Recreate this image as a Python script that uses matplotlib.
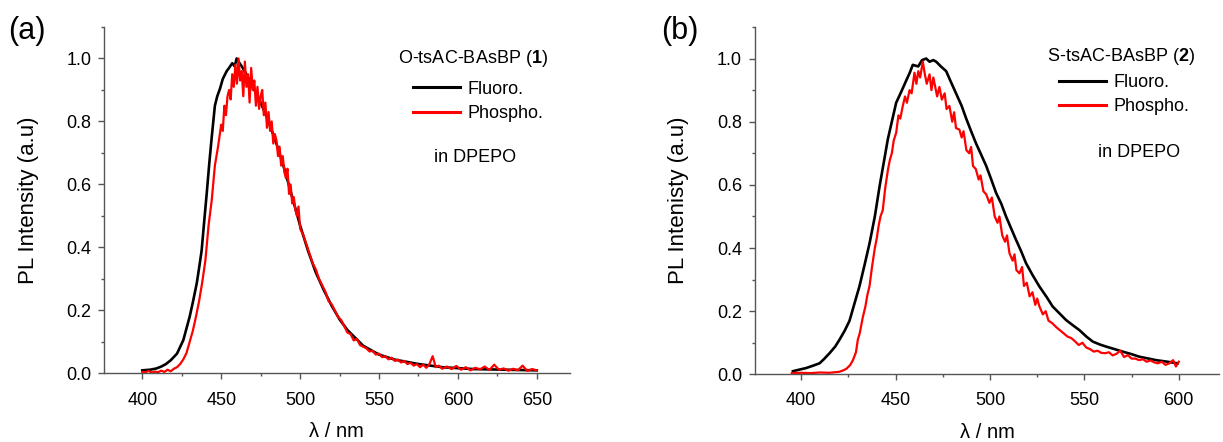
import matplotlib
matplotlib.use("Agg")
import matplotlib.pyplot as plt
from matplotlib.ticker import MultipleLocator

plt.rcParams['font.family'] = ['Liberation Sans', 'DejaVu Sans']
plt.rcParams['mathtext.fontset'] = 'custom'
plt.rcParams['mathtext.rm'] = 'Liberation Sans'
plt.rcParams['mathtext.bf'] = 'Liberation Sans:bold'

# ---------------- Panel (a): O-tsAC-BAsBP (1) ----------------
a_fluo_x = [400, 405, 409, 412, 415, 418, 422, 426, 430, 432, 434.5, 436, 437.6, 439, 440.8, 442.5,
            444, 446, 447.5, 449.3, 451, 453.5, 455, 457, 458.5, 459.8, 461, 463, 466, 470, 475,
            480, 485, 490, 495, 500, 505, 510, 515, 520, 525, 530, 540, 550, 560, 575, 590, 610,
            630, 650]
a_fluo_y = [0.010, 0.012, 0.016, 0.022, 0.030, 0.042, 0.063, 0.106, 0.180, 0.225, 0.286, 0.335,
            0.390, 0.470, 0.570, 0.670, 0.750, 0.850, 0.880, 0.905, 0.935, 0.960, 0.970, 0.985,
            0.975, 1.000, 0.990, 0.975, 0.950, 0.910, 0.860, 0.800, 0.730, 0.650, 0.560, 0.470,
            0.390, 0.320, 0.265, 0.215, 0.172, 0.138, 0.088, 0.060, 0.044, 0.030, 0.020, 0.014,
            0.012, 0.010]

a_phos_x = [400, 402, 404, 406, 408, 410, 412, 414, 416, 418, 420, 422, 424, 426, 428, 430, 432,
            434, 436, 438, 440, 442, 444, 446, 448, 450, 451, 452, 453, 454, 455, 456, 457, 458,
            459, 460, 461, 462, 463, 464, 465, 466, 467, 468, 469, 470, 471, 472, 473, 474, 475,
            476, 477, 478, 479, 480, 481, 482, 483, 484, 485, 486, 487, 488, 489, 490, 491, 492,
            493, 494, 495, 496, 497, 498, 499, 500, 502, 504, 506, 508, 510, 512, 514, 516, 518,
            520, 522, 524, 526, 528, 530, 532, 534, 536, 538, 540, 542, 544, 546, 548, 550, 552,
            554, 556, 558, 560, 562, 564, 566, 568, 570, 572, 574, 576, 578, 580, 582, 584, 586,
            588, 590, 593, 596, 599, 602, 605, 608, 611, 614, 617, 620, 623, 626, 629, 632, 635,
            638, 641, 644, 647, 650]
a_phos_y = [0.005, 0.004, 0.008, 0.003, 0.006, 0.004, 0.009, 0.005, 0.012, 0.007, 0.015, 0.020,
            0.030, 0.045, 0.065, 0.100, 0.135, 0.180, 0.230, 0.290, 0.360, 0.470, 0.550, 0.660,
            0.720, 0.790, 0.770, 0.850, 0.820, 0.880, 0.900, 0.870, 0.950, 0.910, 0.980, 0.920,
            1.000, 0.930, 0.960, 0.880, 0.990, 0.910, 0.950, 0.860, 0.970, 0.900, 0.930, 0.850,
            0.910, 0.840, 0.880, 0.900, 0.820, 0.860, 0.780, 0.830, 0.770, 0.800, 0.730, 0.760,
            0.740, 0.690, 0.720, 0.660, 0.690, 0.640, 0.620, 0.650, 0.570, 0.600, 0.540, 0.560,
            0.520, 0.500, 0.530, 0.460, 0.440, 0.410, 0.380, 0.350, 0.330, 0.300, 0.280, 0.260,
            0.230, 0.220, 0.200, 0.180, 0.170, 0.150, 0.130, 0.125, 0.105, 0.110, 0.090, 0.085,
            0.080, 0.070, 0.072, 0.060, 0.063, 0.052, 0.055, 0.045, 0.050, 0.040, 0.044, 0.035,
            0.040, 0.030, 0.034, 0.025, 0.030, 0.020, 0.028, 0.018, 0.030, 0.055, 0.020, 0.025,
            0.015, 0.022, 0.014, 0.024, 0.012, 0.020, 0.010, 0.018, 0.013, 0.022, 0.011, 0.028,
            0.012, 0.016, 0.009, 0.015, 0.010, 0.025, 0.008, 0.014, 0.010]

# ---------------- Panel (b): S-tsAC-BAsBP (2) ----------------
b_fluo_x = [395.6, 399, 402.6, 406, 409.7, 412, 415, 418, 420.3, 423, 425.6, 428, 430.9, 433.5,
            436.2, 439, 441.5, 444, 445.9, 448, 450.3, 453, 455.6, 457.5, 459.1, 462, 464, 466.2,
            468, 470, 471.5, 474, 476.8, 479, 482, 485, 487.4, 490, 492.7, 495, 498, 500.5, 503.2,
            506, 508.5, 511, 513.8, 516.5, 519.1, 522.5, 526.2, 530, 533.2, 537, 540.3, 544, 547.4,
            551, 554.4, 558, 561.5, 566, 570.3, 575, 579.1, 584, 588, 594, 599.4]
b_fluo_y = [0.010, 0.015, 0.020, 0.027, 0.035, 0.048, 0.067, 0.088, 0.110, 0.138, 0.170, 0.220,
            0.280, 0.345, 0.415, 0.500, 0.595, 0.680, 0.745, 0.800, 0.860, 0.895, 0.930, 0.955,
            0.980, 0.975, 0.995, 1.000, 0.990, 0.995, 0.990, 0.975, 0.960, 0.930, 0.890, 0.850,
            0.810, 0.770, 0.730, 0.700, 0.660, 0.620, 0.575, 0.540, 0.500, 0.465, 0.426, 0.390,
            0.352, 0.315, 0.278, 0.245, 0.215, 0.192, 0.172, 0.155, 0.140, 0.120, 0.104, 0.095,
            0.088, 0.080, 0.072, 0.064, 0.056, 0.050, 0.045, 0.040, 0.035]

b_phos_x = [395, 400, 405, 410, 415, 420, 422, 424, 426, 427.4, 429, 430, 431, 432.6, 434, 435,
            436.2, 437.5, 439, 440, 441, 442, 443.2, 444.5, 446, 447, 448, 449, 450.3, 451.5, 452.5,
            453.8, 455, 456, 457.4, 458.5, 460, 461, 462, 463, 464.4, 465.5, 466.5, 468, 469, 470,
            471, 472, 473.2, 474.5, 476, 477, 478.5, 480, 481, 482, 483.8, 485, 486, 487.5, 489,
            490, 491, 492.5, 494, 495, 496.5, 498, 499.7, 501, 502.5, 504, 505, 506.5, 508, 509,
            510.3, 512, 513, 514, 515.6, 517, 518, 519.5, 521, 522.5, 524, 525, 526.2, 528, 529.5,
            531, 533, 535, 537, 539, 541, 543, 545, 547, 549, 551, 553, 555, 557, 559, 561, 563,
            565, 567, 569, 571, 573, 575, 577, 579, 581, 583, 585, 587, 589, 591, 593, 595, 597,
            598.5, 600]
b_phos_y = [0.004, 0.005, 0.004, 0.006, 0.005, 0.008, 0.012, 0.018, 0.030, 0.045, 0.070, 0.110,
            0.130, 0.180, 0.215, 0.250, 0.280, 0.340, 0.400, 0.430, 0.470, 0.500, 0.520, 0.590,
            0.650, 0.680, 0.700, 0.740, 0.765, 0.820, 0.810, 0.850, 0.880, 0.860, 0.900, 0.890,
            0.955, 0.920, 0.960, 0.940, 0.990, 0.950, 0.920, 0.950, 0.900, 0.940, 0.910, 0.880,
            0.910, 0.870, 0.890, 0.840, 0.850, 0.800, 0.830, 0.780, 0.775, 0.750, 0.770, 0.710,
            0.700, 0.720, 0.660, 0.650, 0.617, 0.630, 0.580, 0.570, 0.543, 0.560, 0.500, 0.480,
            0.500, 0.440, 0.420, 0.440, 0.384, 0.360, 0.380, 0.330, 0.320, 0.340, 0.280, 0.290,
            0.247, 0.260, 0.220, 0.240, 0.215, 0.190, 0.200, 0.170, 0.162, 0.150, 0.140, 0.130,
            0.120, 0.115, 0.105, 0.093, 0.100, 0.085, 0.080, 0.072, 0.075, 0.068, 0.067, 0.070,
            0.060, 0.065, 0.075, 0.055, 0.061, 0.050, 0.050, 0.045, 0.048, 0.040, 0.044,
            0.038, 0.035, 0.040, 0.030, 0.035, 0.045, 0.025, 0.040]

fig = plt.figure(figsize=(12.23, 4.42), dpi=100)
ax1 = fig.add_axes([0.085, 0.155, 0.381, 0.784])
ax2 = fig.add_axes([0.617, 0.153, 0.380, 0.786])

panels = [
    (ax1, a_fluo_x, a_fluo_y, a_phos_x, a_phos_y, (375.7, 671), 'PL Intensity (a.u)',
     r'O-tsAC-BAsBP ($\mathbf{1}$)', (0.663, 0.845), (0.792, 0.91), (0.796, 0.624)),
    (ax2, b_fluo_x, b_fluo_y, b_phos_x, b_phos_y, (375.3, 621.5), 'PL Intenisty (a.u)',
     r'S-tsAC-BAsBP ($\mathbf{2}$)', (0.656, 0.865), (0.789, 0.914), (0.828, 0.64)),
]

for ax, fx, fy, px, py, xlim, ylab, title, legpos, tpos, dpos in panels:
    ax.plot(fx, fy, color='black', lw=1.9, label='Fluoro.')
    ax.plot(px, py, color='#ff0000', lw=1.6, label='Phospho.')
    ax.set_xlim(*xlim)
    ax.set_ylim(0, 1.1)
    ax.xaxis.set_major_locator(MultipleLocator(50))
    ax.xaxis.set_minor_locator(MultipleLocator(25))
    ax.yaxis.set_minor_locator(MultipleLocator(0.1))
    ax.set_yticks([0, 0.2, 0.4, 0.6, 0.8, 1.0])
    ax.set_yticklabels(['0.0', '0.2', '0.4', '0.6', '0.8', '1.0'])
    for s in ['top', 'right']:
        ax.spines[s].set_visible(False)
    for s in ['left', 'bottom']:
        ax.spines[s].set_color('#555555')
        ax.spines[s].set_linewidth(1.0)
    ax.tick_params(which='major', direction='out', length=4, width=1, color='#555555',
                   labelsize=13)
    ax.tick_params(axis='x', which='major', pad=9)
    ax.tick_params(axis='y', which='major', pad=5)
    ax.tick_params(which='minor', direction='out', length=2.5, width=1, color='#555555')
    ax.set_xlabel('λ / nm', fontsize=14.5, labelpad=10)
    ax.set_ylabel(ylab, fontsize=16, labelpad=20)
    leg = ax.legend(loc='upper left', bbox_to_anchor=legpos, frameon=False, fontsize=13,
                    handlelength=2.6, handletextpad=0.4, labelspacing=0.4, borderpad=0,
                    borderaxespad=0)
    for line in leg.get_lines():
        line.set_linewidth(2.2)
    ax.text(tpos[0], tpos[1], title, transform=ax.transAxes, ha='center', va='center',
            fontsize=13)
    ax.text(dpos[0], dpos[1], 'in DPEPO', transform=ax.transAxes, ha='center', va='center',
            fontsize=13)

fig.text(0.022, 0.93, '(a)', fontsize=22, ha='center', va='center')
fig.text(0.556, 0.93, '(b)', fontsize=22, ha='center', va='center')

fig.savefig('out.png', dpi=100)
